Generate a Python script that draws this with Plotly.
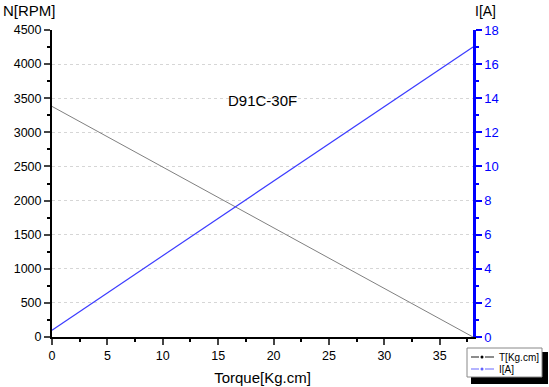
import plotly.graph_objects as go

torque = [0, 38.0]
speed_rpm = [3380, 0]
current_a = [0.4, 17.0]
series_names = ["T[Kg.cm]", "I[A]"]

W, H = 549, 387
L, R, T, B = 52, 76, 30, 50
pw, ph = W - L - R, H - T - B

def px_x(p):
    return (p - L) / pw

def px_y(p):
    return (H - B - p) / ph

fig = go.Figure()
fig.add_trace(go.Scatter(x=torque, y=speed_rpm, name=series_names[0], mode="lines",
                         line=dict(color="#808080", width=1), showlegend=False))
fig.add_trace(go.Scatter(x=torque, y=current_a, name=series_names[1], mode="lines", yaxis="y2",
                         line=dict(color="#3c3cff", width=1.2), showlegend=False))

font = dict(family="Liberation Sans, Arial, sans-serif", color="#000", size=12.5)

annotations = [
    dict(text="D91C-30F", x=19.0, y=3474, xref="x", yref="y", showarrow=False,
         font=dict(size=15)),
    dict(text="N[RPM]", xref="paper", yref="paper", x=px_x(1), y=px_y(11),
         xanchor="left", yanchor="middle", showarrow=False, font=dict(size=15)),
    dict(text="I[A]", xref="paper", yref="paper", x=px_x(473), y=px_y(11),
         xanchor="left", yanchor="middle", showarrow=False, font=dict(size=14)),
]

fig.update_layout(
    width=W, height=H, margin=dict(l=L, r=R, t=T, b=B, autoexpand=False),
    paper_bgcolor="white", plot_bgcolor="white", font=font,
    showlegend=False,
    xaxis=dict(range=[0, 38.0], dtick=5, tick0=0, ticks="outside", ticklen=6, tickwidth=1.5,
               showline=True, linecolor="black", linewidth=2, showgrid=False, zeroline=False,
               minor=dict(dtick=2.5, ticks="outside", ticklen=3, tickcolor="black"),
               title=dict(text="Torque[Kg.cm]", font=dict(size=15), standoff=10)),
    yaxis=dict(range=[0, 4500], dtick=500, tick0=0, ticks="outside", ticklen=6, tickwidth=1.5,
               showline=True, linecolor="black", linewidth=2, zeroline=False,
               showgrid=True, gridcolor="#d6d6d6", griddash="dot", gridwidth=1,
               minor=dict(dtick=250, ticks="outside", ticklen=3, tickcolor="black")),
    yaxis2=dict(range=[0, 18], dtick=2, tick0=0, overlaying="y", side="right",
                ticks="outside", ticklen=6, tickwidth=2, tickcolor="#0000ff",
                showline=True, linecolor="#0000ff", linewidth=2.5, zeroline=False, showgrid=False,
                tickfont=dict(color="#0000ff", size=13),
                minor=dict(dtick=1, ticks="outside", ticklen=3, tickcolor="#0000ff")),
)

# legend box (with drop shadow), drawn as in the reference
shapes = [
    dict(type="rect", x0=px_x(471), x1=px_x(548), y0=px_y(384), y1=px_y(352),
         fillcolor="black", line=dict(width=0)),
    dict(type="rect", x0=px_x(467), x1=px_x(542), y0=px_y(377), y1=px_y(348),
         fillcolor="white", line=dict(color="#888", width=1)),
]
legend_colors = [("#404040", "#000000"), ("#8080ff", "#6060ff")]
legend_rows = [357, 369]
for (lc, dc), yy, name in zip(legend_colors, legend_rows, series_names):
    for a, b in [(471, 479), (485, 494)]:
        shapes.append(dict(type="line", x0=px_x(a), x1=px_x(b), y0=px_y(yy), y1=px_y(yy),
                           line=dict(color=lc, width=1.2)))
    shapes.append(dict(type="circle", x0=px_x(480.5), x1=px_x(483.5),
                       y0=px_y(yy + 1.5), y1=px_y(yy - 1.5),
                       fillcolor=dc, line=dict(width=0)))
    annotations.append(dict(text=name, xref="paper", yref="paper", x=px_x(497), y=px_y(yy),
                            xanchor="left", yanchor="middle", showarrow=False,
                            font=dict(size=10)))
for s in shapes:
    s.update(xref="paper", yref="paper", layer="above")
fig.update_layout(shapes=shapes, annotations=annotations)

fig.write_html("out.html", config={"displayModeBar": False},
               post_script="document.body.style.margin='0';")
